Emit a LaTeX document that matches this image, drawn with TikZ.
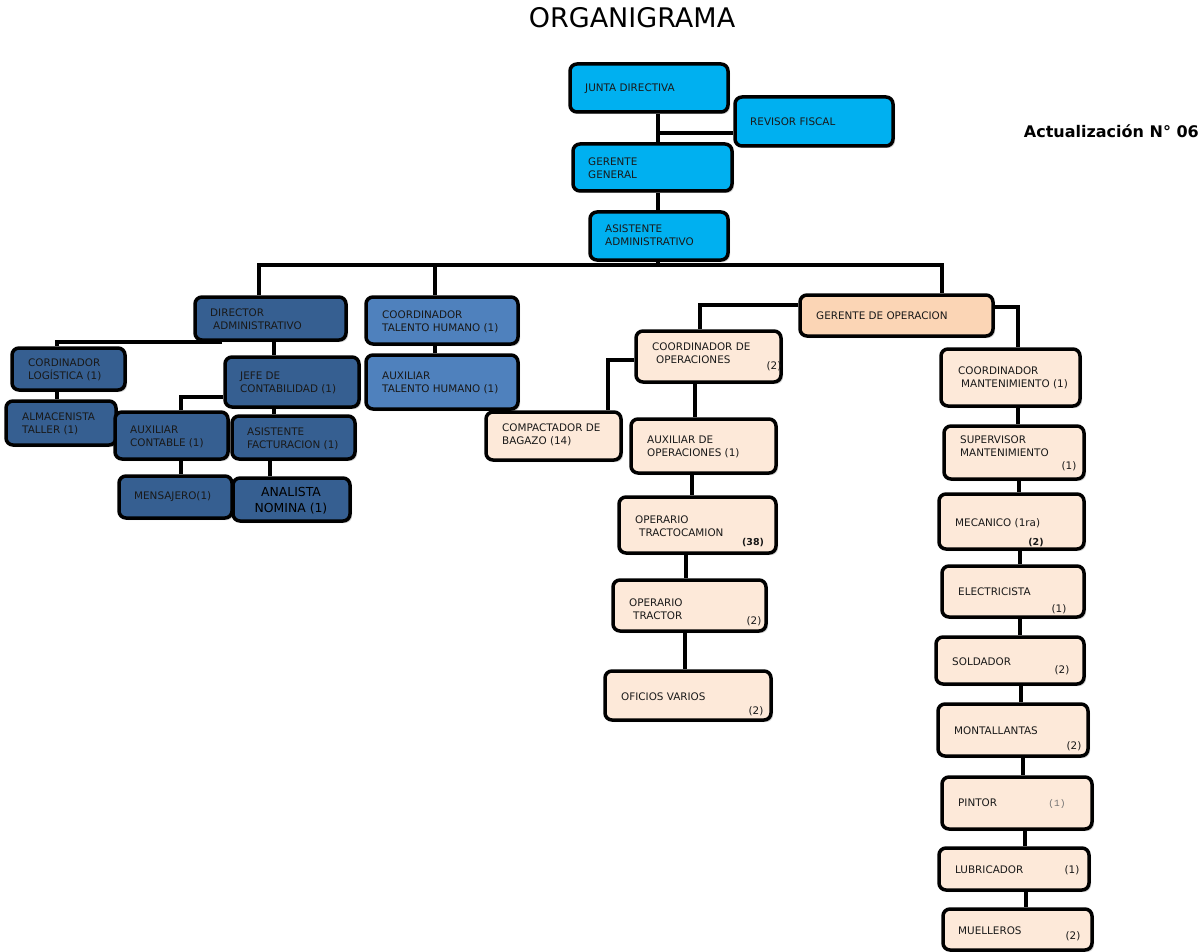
\documentclass[tikz,border=0pt]{standalone}
\usepackage{fontspec}
\setmainfont{DejaVu Sans}
\newfontfamily\monof{Liberation Mono}
\usetikzlibrary{fit,shadows,calc}
\definecolor{cyanc}{HTML}{00B0F0}
\definecolor{navyc}{HTML}{365F91}
\definecolor{bluec}{HTML}{4F81BD}
\definecolor{peachc}{HTML}{FDE9D9}
\definecolor{opc}{HTML}{FBD5B5}
\tikzset{
  box/.style={draw=black, line width=3.5pt, rounded corners=7pt, inner sep=0pt,
    drop shadow={shadow xshift=2pt, shadow yshift=-2pt, opacity=0.3, fill=black!60}},
  cyanbox/.style={box, fill=cyanc},
  navybox/.style={box, fill=navyc},
  bluebox/.style={box, fill=bluec},
  peachbox/.style={box, fill=peachc},
  opbox/.style={box, fill=opc},
  txt/.style={font=\fontsize{10.4}{13}\selectfont, align=left, anchor=west, inner sep=0pt, text=black!90},
  cnt/.style={font=\fontsize{10.4}{13}\selectfont, inner sep=0pt, text=black!90},
  conn/.style={line width=3.5pt, draw=black},
}
\newcommand{\vcon}[3]{\coordinate (vtmp) at (#3,0); \draw[conn] (#1.south -| vtmp) -- (#2.north -| vtmp);}
\begin{document}
\begin{tikzpicture}[x=1pt,y=-1pt]
\useasboundingbox (0,0) rectangle (1202,952);

% title
\node[font=\fontsize{27}{30}\selectfont, inner sep=0pt] (title) at (632,18) {ORGANIGRAMA};
\node[font=\bfseries\fontsize{16}{18}\selectfont, anchor=east, inner sep=0pt] (act) at (1199,131) {Actualización N° 06};

% top level
\node[cyanbox, fit={(570,64)(728,112)}] (junta) {};
\node[cyanbox, fit={(735,97)(893,146)}] (rev) {};
\node[cyanbox, fit={(573,144)(732,191)}] (gg) {};
\node[cyanbox, fit={(590,212)(728,260)}] (asis) {};
\node[txt] (junta-t) at (585,89) {JUNTA DIRECTIVA};
\node[txt] (rev-t) at (750,122) {REVISOR FISCAL};
\node[txt] (gg-t) at (588,168) {GERENTE\\GENERAL};
\node[txt] (asis-t) at (605,235.5) {ASISTENTE\\ADMINISTRATIVO};

% administrative branch
\node[navybox, fit={(195,297)(346,340)}] (dir) {};
\node[navybox, fit={(12,348)(125,390)}] (cord) {};
\node[navybox, fit={(6,401)(116,445)}] (alm) {};
\node[navybox, fit={(225,357)(359,407)}] (jefe) {};
\node[navybox, fit={(115,412)(228,459)}] (auxc) {};
\node[navybox, fit={(232,416)(355,459)}] (fact) {};
\node[navybox, fit={(119,476)(232,518)}] (mens) {};
\node[navybox, fit={(233,478)(350,521)}] (anal) {};
\node[txt] (dir-t) at (210,319.5) {DIRECTOR\\\hspace{3pt}ADMINISTRATIVO};
\node[txt] (cord-t) at (28,370) {CORDINADOR\\LOGÍSTICA (1)};
\node[txt] (alm-t) at (22,423.5) {ALMACENISTA\\TALLER (1)};
\node[txt] (jefe-t) at (240,382.5) {JEFE DE\\CONTABILIDAD (1)};
\node[txt] (auxc-t) at (130,436.5) {AUXILIAR\\CONTABLE (1)};
\node[txt] (fact-t) at (247,438.5) {ASISTENTE\\FACTURACION (1)};
\node[txt] (mens-t) at (134,497) {MENSAJERO(1)};
\node[font=\fontsize{12.4}{16}\selectfont, align=center, inner sep=0pt] (anal-t) at (291,501) {ANALISTA\\NOMINA (1)};

% talento humano
\node[bluebox, fit={(366,297)(518,344)}] (cth) {};
\node[bluebox, fit={(366,355)(518,409)}] (auxth) {};
\node[txt] (cth-t) at (382,321.5) {COORDINADOR\\TALENTO HUMANO (1)};
\node[txt] (auxth-t) at (382,382.5) {AUXILIAR\\TALENTO HUMANO (1)};

% operations
\node[opbox, fit={(800,295)(993,336)}] (gop) {};
\node[peachbox, fit={(636,331)(781,382)}] (coop) {};
\node[peachbox, fit={(486,412)(621,460)}] (comp) {};
\node[peachbox, fit={(631,419)(776,473)}] (auxop) {};
\node[peachbox, fit={(619,497)(776,553)}] (optc) {};
\node[peachbox, fit={(613,580)(766,631)}] (optr) {};
\node[peachbox, fit={(605,671)(771,720)}] (ofic) {};
\node[txt] (gop-t) at (816,316) {GERENTE DE OPERACION};
\node[txt] (coop-t) at (652,353.5) {COORDINADOR DE\\\hspace{4pt}OPERACIONES};
\node[cnt] (coop-n) at (774,366) {(2)};
\node[txt] (comp-t) at (502,434.5) {COMPACTADOR DE\\BAGAZO (14)};
\node[txt] (auxop-t) at (647,446.5) {AUXILIAR DE\\OPERACIONES (1)};
\node[txt] (optc-t) at (635,526.5) {OPERARIO\\\hspace{4pt}TRACTOCAMION};
\node[cnt, font=\bfseries\fontsize{9.5}{12}\selectfont] (optc-n) at (753,543) {(38)};
\node[txt] (optr-t) at (629,609.5) {OPERARIO\\\hspace{4pt}TRACTOR};
\node[cnt] (optr-n) at (754,621) {(2)};
\node[txt] (ofic-t) at (621,697) {OFICIOS VARIOS};
\node[cnt] (ofic-n) at (756,711) {(2)};

% maintenance
\node[peachbox, fit={(941,349)(1080,406)}] (cmant) {};
\node[peachbox, fit={(944,426)(1084,479)}] (sup) {};
\node[peachbox, fit={(939,494)(1084,549)}] (mec) {};
\node[peachbox, fit={(942,566)(1084,617)}] (elec) {};
\node[peachbox, fit={(936,637)(1084,684)}] (sold) {};
\node[peachbox, fit={(938,704)(1088,756)}] (mont) {};
\node[peachbox, fit={(942,777)(1092,829)}] (pint) {};
\node[peachbox, fit={(939,848)(1089,890)}] (lub) {};
\node[peachbox, fit={(943,909)(1092,950)}] (muel) {};
\node[txt] (cmant-t) at (958,378) {COORDINADOR\\\hspace{3pt}MANTENIMIENTO (1)};
\node[txt] (sup-t) at (960,446.5) {SUPERVISOR\\MANTENIMIENTO};
\node[cnt] (sup-n) at (1069,466) {(1)};
\node[txt] (mec-t) at (955,523) {MECANICO (1ra)};
\node[cnt, font=\bfseries\fontsize{9.5}{12}\selectfont] (mec-n) at (1036,543) {(2)};
\node[txt] (elec-t) at (958,592) {ELECTRICISTA};
\node[cnt] (elec-n) at (1059,609) {(1)};
\node[txt] (sold-t) at (952,662) {SOLDADOR};
\node[cnt] (sold-n) at (1062,670) {(2)};
\node[txt] (mont-t) at (954,731) {MONTALLANTAS};
\node[cnt] (mont-n) at (1074,746) {(2)};
\node[txt] (pint-t) at (958,803) {PINTOR};
\node[cnt, font=\monof\fontsize{9.5}{12}\selectfont, text=black!55] (pint-n) at (1057,804) {(1)};
\node[txt] (lub-t) at (955,870) {LUBRICADOR};
\node[cnt] (lub-n) at (1072,870) {(1)};
\node[txt] (muel-t) at (958,931) {MUELLEROS};
\node[cnt] (muel-n) at (1073,936) {(2)};

% connectors
\coordinate (xa) at (658,0);
\coordinate (yrev) at (0,133);
\draw[conn] (junta.south -| xa) -- (gg.north -| xa);
\draw[conn] (xa |- yrev) -- (rev.west |- yrev);
\draw[conn] (gg.south -| xa) -- (asis.north -| xa);
\coordinate (bus) at (0,265);
\coordinate (xd) at (259,0);
\coordinate (xt) at (435,0);
\coordinate (xg) at (942,0);
\draw[conn] (asis.south -| xa) -- (xa |- bus);
\draw[conn] (dir.north -| xd) -- (xd |- bus) -- (xg |- bus) -- (gop.north -| xg);
\draw[conn] (xt |- bus) -- (cth.north -| xt);

% admin connectors
\coordinate (x222) at (222,0);
\coordinate (x57) at (57,0);
\draw[conn] (x222 |- dir.south) -- (x57 |- dir.south) -- (cord.north -| x57);
\vcon{dir}{jefe}{274}
\vcon{cord}{alm}{57}
\coordinate (y397) at (0,397);
\coordinate (x181) at (181,0);
\draw[conn] (jefe.west |- y397) -| (auxc.north -| x181);
\vcon{jefe}{fact}{274}
\vcon{auxc}{mens}{181}
\vcon{fact}{anal}{270}
\vcon{cth}{auxth}{435}

% operations connectors
\coordinate (y305) at (0,305);
\coordinate (x700) at (700,0);
\draw[conn] (gop.west |- y305) -| (coop.north -| x700);
\coordinate (y307) at (0,307);
\coordinate (x1018) at (1018,0);
\draw[conn] (gop.east |- y307) -| (cmant.north -| x1018);
\coordinate (y360) at (0,360);
\coordinate (x608) at (608,0);
\draw[conn] (coop.west |- y360) -| (comp.north -| x608);
\vcon{coop}{auxop}{695}
\vcon{auxop}{optc}{692}
\vcon{optc}{optr}{686}
\vcon{optr}{ofic}{685}

% maintenance connectors
\vcon{cmant}{sup}{1018}
\vcon{sup}{mec}{1019}
\vcon{mec}{elec}{1020}
\vcon{elec}{sold}{1020}
\vcon{sold}{mont}{1021}
\vcon{mont}{pint}{1023}
\vcon{pint}{lub}{1025}
\vcon{lub}{muel}{1026}
\end{tikzpicture}
\end{document}
